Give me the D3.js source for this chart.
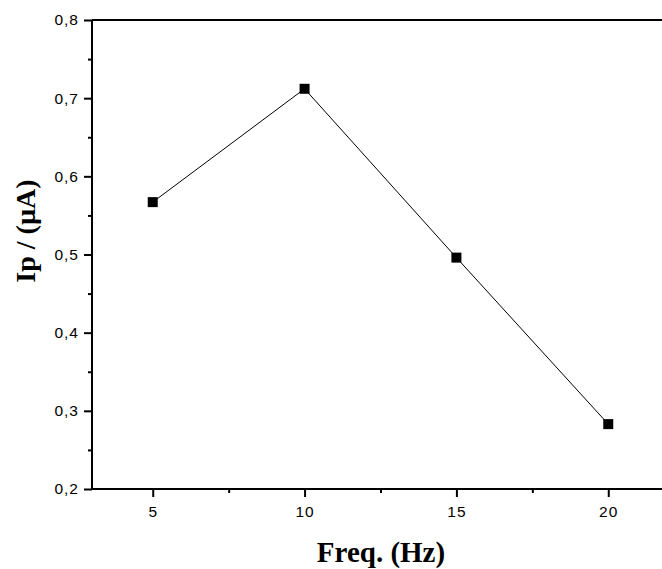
<!DOCTYPE html>
<html>
<head>
<meta charset="utf-8">
<script src="https://cdn.jsdelivr.net/npm/d3@7"></script>
<style>
  body { margin: 0; background: #fff; }
</style>
</head>
<body>
<div id="chart"></div>
<script>
// data
const freq = [5, 10, 15, 20];
const ip = [0.567, 0.712, 0.496, 0.283];
const xTicks = [5, 10, 15, 20];
const xMinor = [7.5, 12.5, 17.5];
const yTicks = [0.2, 0.3, 0.4, 0.5, 0.6, 0.7, 0.8];
const yMinor = [0.25, 0.35, 0.45, 0.55, 0.65, 0.75];

const W = 662, H = 569;
const plotL = 92, plotT = 20, plotR = 662, plotB = 489;

const svg = d3.select("#chart")
  .append("svg")
  .attr("width", W)
  .attr("height", H);

const x = d3.scaleLinear().domain([3, 21.77]).range([plotL, plotR]);
const y = d3.scaleLinear().domain([0.2, 0.8]).range([plotB, plotT]);

const fmt = d => d3.format(".1f")(d).replace(".", ",");

// x axis
const gx = svg.append("g").attr("transform", `translate(0,${plotB})`);
gx.call(d3.axisBottom(x).tickValues(xTicks).tickSize(8).tickPadding(9).tickFormat(d3.format("d")));
gx.append("g").call(d3.axisBottom(x).tickValues(xMinor).tickSize(4).tickFormat(""))
  .select(".domain").remove();

// y axis
const gy = svg.append("g").attr("transform", `translate(${plotL},0)`);
gy.call(d3.axisLeft(y).tickValues(yTicks).tickSize(8).tickPadding(5).tickFormat(fmt));
gy.append("g").call(d3.axisLeft(y).tickValues(yMinor).tickSize(4).tickFormat(""))
  .select(".domain").remove();

svg.selectAll(".domain").attr("stroke-width", 2);
gx.select(".domain").attr("d", `M${plotL},0H${plotR}`);
gy.select(".domain").attr("d", `M0,${plotT}V${plotB}`);
svg.selectAll(".tick line").attr("stroke-width", 2);
svg.selectAll(".tick text")
  .style("font-family", "'Liberation Sans', Arial, sans-serif")
  .style("font-size", "15.5px")
  .style("letter-spacing", "1px")
  .attr("fill", "#000");

// top frame line
svg.append("line")
  .attr("x1", plotL).attr("x2", plotR)
  .attr("y1", plotT).attr("y2", plotT)
  .attr("stroke", "#000").attr("stroke-width", 2);

// series line
const line = d3.line().x((d, i) => x(freq[i])).y(d => y(d));
svg.append("path")
  .datum(ip)
  .attr("d", line)
  .attr("fill", "none")
  .attr("stroke", "#000")
  .attr("stroke-width", 1);

// markers
svg.selectAll("rect.pt")
  .data(ip)
  .enter()
  .append("rect")
  .attr("class", "pt")
  .attr("x", (d, i) => x(freq[i]) - 5)
  .attr("y", d => y(d) - 5)
  .attr("width", 10)
  .attr("height", 10)
  .attr("fill", "#000");

// axis titles
svg.append("text")
  .attr("x", 381)
  .attr("y", 562)
  .attr("text-anchor", "middle")
  .style("font-family", "'Liberation Serif', 'Times New Roman', serif")
  .style("font-weight", "bold")
  .style("font-size", "29px")
  .text("Freq. (Hz)");

svg.append("text")
  .attr("transform", "translate(35,231) rotate(-90)")
  .attr("text-anchor", "middle")
  .style("font-family", "'Liberation Serif', 'Times New Roman', serif")
  .style("font-weight", "bold")
  .style("font-size", "28px")
  .text("Ip / (µA)");
</script>
</body>
</html>
